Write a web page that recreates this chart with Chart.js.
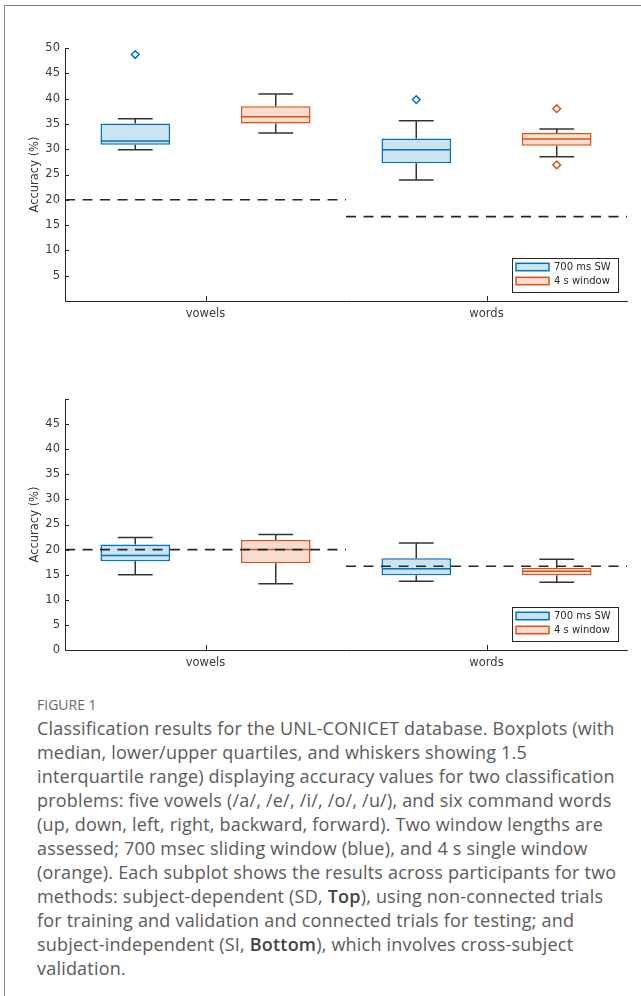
<!DOCTYPE html>
<html>
<head>
<meta charset="utf-8">
<script src="https://cdn.jsdelivr.net/npm/chart.js@4.4.0/dist/chart.umd.min.js"></script>
<style>
  html, body { margin: 0; padding: 0; background: #fff; }
  body { width: 641px; height: 996px; position: relative; overflow: hidden; }
  .frame { position: absolute; left: 4px; top: 5px; right: 0; bottom: 0;
           border-left: 1.5px solid #8a8a8a; border-top: 1.5px solid #8a8a8a; }
  .plot { position: absolute; left: 0; width: 641px; }
  #topWrap { top: 0; height: 330px; }
  #bottomWrap { top: 340px; height: 340px; }
  .fig-label { position: absolute; left: 37px; top: 697px; font: 14px/16px "Open Sans", sans-serif;
               color: #6b6b6b; }
  .caption { position: absolute; left: 37px; top: 716px; font: 18px/24px "Open Sans", sans-serif;
             color: #5a5a5a; white-space: nowrap; letter-spacing: 0.2px; }
  .caption b { color: #444; font-weight: 600; }
</style>
</head>
<body>
<div class="frame"></div>
<div class="plot" id="topWrap"><canvas id="topChart"></canvas></div>
<div class="plot" id="bottomWrap"><canvas id="bottomChart"></canvas></div>
<div class="fig-label">FIGURE 1</div>
<div class="caption">Classification results for the UNL-CONICET database. Boxplots (with<br>median, lower/upper quartiles, and whiskers showing 1.5<br>interquartile range) displaying accuracy values for two classification<br>problems: five vowels (/a/, /e/, /i/, /o/, /u/), and six command words<br>(up, down, left, right, backward, forward). Two window lengths are<br>assessed; 700 msec sliding window (blue), and 4 s single window<br>(orange). Each subplot shows the results across participants for two<br>methods: subject-dependent (SD, <b>Top</b>), using non-connected trials<br>for training and validation and connected trials for testing; and<br>subject-independent (SI, <b>Bottom</b>), which involves cross-subject<br>validation.</div>

<script>
// categories + legend names
const categories = ['vowels', 'words'];
const seriesNames = ['700 ms SW', '4 s window'];
// chance level per category (1/5 vowels, 1/6 words)
const chanceLevels = [20, 16.67];

// top panel: subject-dependent (SD)
const sdSwLow      = [29.9, 23.9];
const sdSwQ1       = [30.9, 27.2];
const sdSwMedian   = [31.6, 29.9];
const sdSwQ3       = [35.1, 32.1];
const sdSwHigh     = [36.0, 35.6];
const sdSwOutliers = [[48.7], [39.8]];

const sdWinLow      = [33.2, 28.5];
const sdWinQ1       = [35.1, 30.7];
const sdWinMedian   = [36.4, 32.0];
const sdWinQ3       = [38.5, 33.2];
const sdWinHigh     = [40.9, 34.0];
const sdWinOutliers = [[], [38.0, 26.9]];

// bottom panel: subject-independent (SI)
const siSwLow      = [15.0, 13.7];
const siSwQ1       = [17.7, 14.9];
const siSwMedian   = [18.8, 16.2];
const siSwQ3       = [21.0, 18.3];
const siSwHigh     = [22.4, 21.3];
const siSwOutliers = [[], []];

const siWinLow      = [13.2, 13.5];
const siWinQ1       = [17.3, 14.9];
const siWinMedian   = [20.0, 15.7];
const siWinQ3       = [21.9, 16.4];
const siWinHigh     = [23.0, 18.1];
const siWinOutliers = [[], []];

const BLUE = '#0072BD', BLUE_FILL = '#cce3f2';
const ORANGE = '#D95319', ORANGE_FILL = '#f7ddd1';
const INK = '#262626';
const FONT = '"DejaVu Sans", sans-serif';

Chart.defaults.font.family = FONT;
Chart.defaults.color = '#333';

const line = (ctx, x1, y1, x2, y2) => {
  ctx.beginPath(); ctx.moveTo(x1, y1); ctx.lineTo(x2, y2); ctx.stroke();
};

// whiskers, medians, outliers, chance line, inward ticks, legend
const boxParts = {
  id: 'boxParts',
  afterDatasetsDraw(chart) {
    const { ctx, chartArea: area, scales: { x, y } } = chart;
    ctx.save();

    chart.data.datasets.forEach((ds, i) => {
      const meta = chart.getDatasetMeta(i);
      meta.data.forEach((bar, j) => {
        const cx = bar.x, half = bar.width / 2, cap = bar.width / 4;
        // whiskers
        ctx.strokeStyle = '#333'; ctx.lineWidth = 1.5; ctx.setLineDash([]);
        line(ctx, cx, y.getPixelForValue(ds.q3[j]), cx, y.getPixelForValue(ds.high[j]));
        line(ctx, cx - cap, y.getPixelForValue(ds.high[j]), cx + cap, y.getPixelForValue(ds.high[j]));
        line(ctx, cx, y.getPixelForValue(ds.q1[j]), cx, y.getPixelForValue(ds.low[j]));
        line(ctx, cx - cap, y.getPixelForValue(ds.low[j]), cx + cap, y.getPixelForValue(ds.low[j]));
        // median
        ctx.strokeStyle = ds.borderColor;
        const my = y.getPixelForValue(ds.median[j]);
        line(ctx, cx - half + 1, my, cx + half - 1, my);
        // outliers (small open diamonds)
        ds.outliers[j].forEach(v => {
          const oy = y.getPixelForValue(v), r = 3.8;
          ctx.beginPath();
          ctx.moveTo(cx, oy - r); ctx.lineTo(cx + r, oy);
          ctx.lineTo(cx, oy + r); ctx.lineTo(cx - r, oy);
          ctx.closePath();
          ctx.stroke();
        });
      });
    });

    // chance level, one dashed segment per category
    ctx.strokeStyle = INK; ctx.lineWidth = 1.6; ctx.setLineDash([10, 7.5]);
    categories.forEach((c, j) => {
      const left = j === 0 ? area.left : (x.getPixelForTick(j - 1) + x.getPixelForTick(j)) / 2;
      const right = j === categories.length - 1 ? area.right : (x.getPixelForTick(j) + x.getPixelForTick(j + 1)) / 2;
      const py = y.getPixelForValue(chanceLevels[j]);
      line(ctx, left, py, right, py);
    });
    ctx.setLineDash([]);

    // inward tick marks
    ctx.strokeStyle = INK; ctx.lineWidth = 1;
    y.ticks.forEach((t, k) => {
      const py = Math.round(y.getPixelForTick(k)) + 0.5;
      line(ctx, area.left, py, area.left + 4, py);
    });
    x.ticks.forEach((t, k) => {
      const px = Math.round(x.getPixelForTick(k)) + 0.5;
      line(ctx, px, area.bottom, px, area.bottom - 5);
    });

    // legend box, lower right
    const w = 106, h = 34;
    const lx = area.right - 9 - w, ly = area.bottom - 9 - h;
    ctx.fillStyle = '#fff';
    ctx.fillRect(lx, ly, w, h);
    ctx.strokeStyle = INK; ctx.lineWidth = 1;
    ctx.strokeRect(lx + 0.5, ly + 0.5, w, h);
    chart.data.datasets.forEach((ds, i) => {
      const cy = ly + 9 + i * 14;
      ctx.fillStyle = ds.backgroundColor;
      ctx.fillRect(lx + 4, cy - 3.7, 33, 7.4);
      ctx.strokeStyle = ds.borderColor; ctx.lineWidth = 1.5;
      ctx.strokeRect(lx + 4, cy - 3.7, 33, 7.4);
      ctx.fillStyle = INK;
      ctx.font = '10px ' + FONT;
      ctx.textBaseline = 'middle';
      ctx.fillText(ds.label, lx + 42, cy + 0.5);
    });
    ctx.restore();
  }
};

const makeDataset = (name, color, fill, low, q1, median, q3, high, outliers) => ({
  label: name,
  data: categories.map((c, j) => [q1[j], q3[j]]),
  backgroundColor: fill,
  borderColor: color,
  borderWidth: 1.5,
  borderSkipped: false,
  categoryPercentage: 1.0,
  barPercentage: 0.495,
  low, q1, median, q3, high, outliers
});

const makeChart = (canvasId, datasets, topPad, xHeight, hiddenLabel) => new Chart(
  document.getElementById(canvasId), {
    type: 'bar',
    data: { labels: categories, datasets },
    options: {
      responsive: true,
      maintainAspectRatio: false,
      animation: false,
      events: [],
      layout: { padding: { left: 0, right: 14, top: topPad, bottom: 0 } },
      plugins: { legend: { display: false }, tooltip: { enabled: false } },
      scales: {
        x: {
          grid: { display: false, drawTicks: false },
          border: { display: true, color: INK, width: 1 },
          ticks: { padding: 6, color: '#3a3a3a', font: { size: 11.5 } },
          afterFit: s => { s.height = xHeight; }
        },
        y: {
          min: 0, max: 50,
          grid: { display: false, drawTicks: false },
          border: { display: true, color: INK, width: 1 },
          ticks: {
            stepSize: 5, padding: 5, color: '#3a3a3a', font: { size: 11.5 },
            callback: v => (v === hiddenLabel ? '' : v)
          },
          title: {
            display: true, text: 'Accuracy (%)', color: '#333',
            font: { size: 11.5 }, padding: { top: 28, bottom: 0 }
          },
          afterFit: s => { s.width = 65; }
        }
      }
    },
    plugins: [boxParts]
  });

makeChart('topChart', [
  makeDataset(seriesNames[0], BLUE, BLUE_FILL, sdSwLow, sdSwQ1, sdSwMedian, sdSwQ3, sdSwHigh, sdSwOutliers),
  makeDataset(seriesNames[1], ORANGE, ORANGE_FILL, sdWinLow, sdWinQ1, sdWinMedian, sdWinQ3, sdWinHigh, sdWinOutliers)
], 48, 29, 0);

makeChart('bottomChart', [
  makeDataset(seriesNames[0], BLUE, BLUE_FILL, siSwLow, siSwQ1, siSwMedian, siSwQ3, siSwHigh, siSwOutliers),
  makeDataset(seriesNames[1], ORANGE, ORANGE_FILL, siWinLow, siWinQ1, siWinMedian, siWinQ3, siWinHigh, siWinOutliers)
], 59, 30, 50);
</script>
</body>
</html>
